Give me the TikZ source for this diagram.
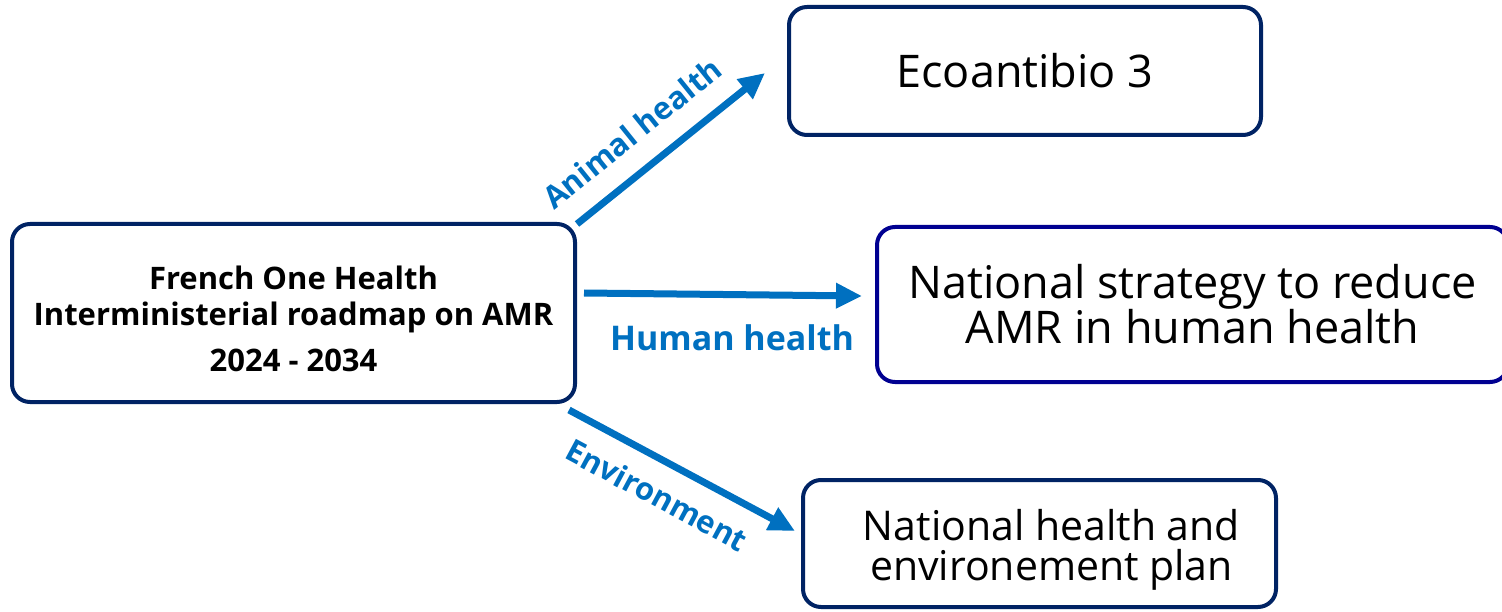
\documentclass[tikz,border=0pt]{standalone}
\usepackage{fontspec}
\setmainfont{Open Sans}
\usetikzlibrary{arrows.meta,calc}
\definecolor{navy}{RGB}{0,35,100}
\definecolor{fblue}{RGB}{0,0,145}
\definecolor{arrblue}{RGB}{0,112,192}
\begin{document}
\begin{tikzpicture}[x=1pt,y=-1pt,
  box/.style={draw=navy, line width=4pt, rounded corners=18pt, fill=white, inner sep=0pt, align=center},
  txt/.style={inner sep=0pt, align=center},
  conn/.style={draw=arrblue, line width=7pt, -{Triangle[length=26pt,width=24pt]}},
  lab/.style={text=arrblue, font=\fontsize{31}{34}\selectfont\bfseries, inner sep=0pt}]
\useasboundingbox (0,0) rectangle (1502,612);
\node[box, minimum width=563pt, minimum height=178pt] (L) at (293.5,313) {};
\node[txt, font=\fontsize{31}{36}\selectfont\bfseries] (Lt) at ($(L.center)+(0,6)$)
  {French One Health\\Interministerial roadmap on AMR\\[10pt]2024 - 2034};
\node[box, minimum width=472pt, minimum height=128pt, font=\fontsize{45}{48}\selectfont] (E) at (1025,71) {Ecoantibio 3};
\node[box, draw=fblue, minimum width=631pt, minimum height=155pt, font=\fontsize{45}{45}\selectfont] (H) at (1192.5,304.5)
  {National strategy to reduce\\AMR in human health};
\node[box, minimum width=473pt, minimum height=127pt] (N) at (1039.5,543.5) {};
\node[txt, font=\fontsize{41}{40}\selectfont] (Nt) at ($(N.center)+(12,6)$)
  {National health and\\environement plan};
\coordinate (aEnd) at (765,73);
\coordinate (hEnd) at (862,296);
\coordinate (eEnd) at (795,531);
\draw[conn] ($(L.north east)+(0,2)$) -- (aEnd);
\draw[conn] ($(L.east)+(7,-20)$) -- (hEnd);
\draw[conn] ($(L.south east)+(-8,6)$) -- (eEnd);
\node[lab, rotate=38.8] (la) at (632,133) {Animal health};
\node[lab, font=\fontsize{34}{36}\selectfont\bfseries] (lh) at (732,338) {Human health};
\node[lab, rotate=-28.2] (le) at (657,495) {Environment};
\end{tikzpicture}
\end{document}
